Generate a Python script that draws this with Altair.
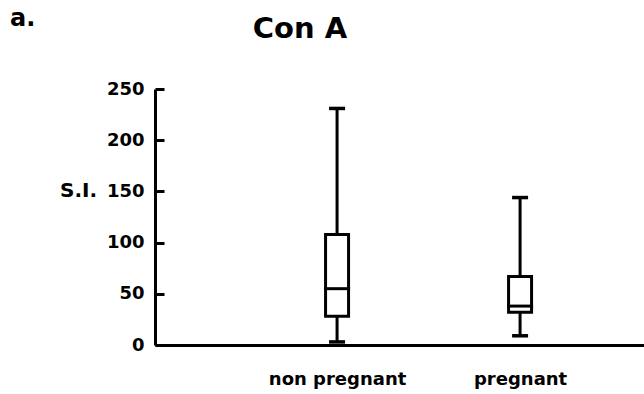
import altair as alt
import pandas as pd

# ---- data ----
groups = ["non pregnant", "pregnant"]
whisker_low = [3, 9]
q1 = [28, 32]
median = [55, 38]
q3 = [108, 67]
whisker_high = [231, 144]
y_ticks = [0, 50, 100, 150, 200, 250]

df = pd.DataFrame({
    "group": groups,
    "lo": whisker_low,
    "q1": q1,
    "med": median,
    "q3": q3,
    "hi": whisker_high,
})

W, H = 489, 256
FONT = "DejaVu Sans"

xscale = alt.Scale(type="point", domain=groups, padding=0.836, align=0.595)
yscale = alt.Scale(domain=[0, 250], nice=False, zero=True)

x_axis = alt.Axis(
    title=None, domainWidth=3, domainColor="black", ticks=False, grid=False,
    labelFont=FONT, labelFontWeight="bold", labelFontSize=18, labelColor="black",
    labelPadding=25, labelAngle=0,
)
x_enc = alt.X("group:N", scale=xscale, axis=x_axis)

y_left = alt.Axis(
    values=y_ticks, ticks=False, grid=False, domainWidth=3, domainColor="black",
    labelPadding=11, labelFont=FONT, labelFontSize=18, labelFontWeight="bold",
    labelColor="black",
    title="S.I.", titleAngle=0, titleFont=FONT, titleFontSize=20,
    titleFontWeight="bold", titleColor="black", titleX=-77, titleY=101,
    titleAlign="center", titleBaseline="middle",
)
y_right_ticks = alt.Axis(
    orient="right", offset=-W, values=y_ticks, labels=False, domain=False,
    ticks=True, tickSize=9, tickWidth=3, tickColor="black", grid=False, title=None,
)

base = alt.Chart(df)

whiskers = base.mark_rule(strokeWidth=3, color="black").encode(
    x=x_enc,
    y=alt.Y("lo:Q", scale=yscale, axis=y_left),
    y2="hi:Q",
)
boxes = base.mark_bar(size=23, fill="white", stroke="black", strokeWidth=3).encode(
    x=x_enc,
    y=alt.Y("q1:Q", scale=yscale, axis=None),
    y2="q3:Q",
)
medians = base.mark_tick(size=26, thickness=3, color="black", opacity=1).encode(
    x=x_enc,
    y=alt.Y("med:Q", scale=yscale, axis=None),
)
caps_hi = base.mark_tick(size=16, thickness=3.5, color="black", opacity=1).encode(
    x=x_enc,
    y=alt.Y("hi:Q", scale=yscale, axis=y_right_ticks),
)
caps_lo = base.mark_tick(size=16, thickness=3.5, color="black", opacity=1).encode(
    x=x_enc,
    y=alt.Y("lo:Q", scale=yscale, axis=None),
)

title_txt = alt.Chart(pd.DataFrame({"t": ["Con A"]})).mark_text(
    font=FONT, fontWeight="bold", fontSize=29, align="center",
    baseline="alphabetic", color="black",
).encode(text="t:N", x=alt.value(145), y=alt.value(-51))

panel_txt = alt.Chart(pd.DataFrame({"t": ["a."]})).mark_text(
    font=FONT, fontWeight="bold", fontSize=24, align="left",
    baseline="alphabetic", color="black",
).encode(text="t:N", x=alt.value(-145), y=alt.value(-63))

chart = (
    alt.layer(whiskers, boxes, medians, caps_hi, caps_lo, title_txt, panel_txt)
    .resolve_axis(y="independent")
    .properties(
        width=W, height=H, autosize="none",
        padding={"left": 155, "top": 89, "right": 0, "bottom": 49},
        background="white",
    )
    .configure_view(stroke=None)
)

chart.save("out.html", embed_options={"renderer": "svg", "actions": False})
